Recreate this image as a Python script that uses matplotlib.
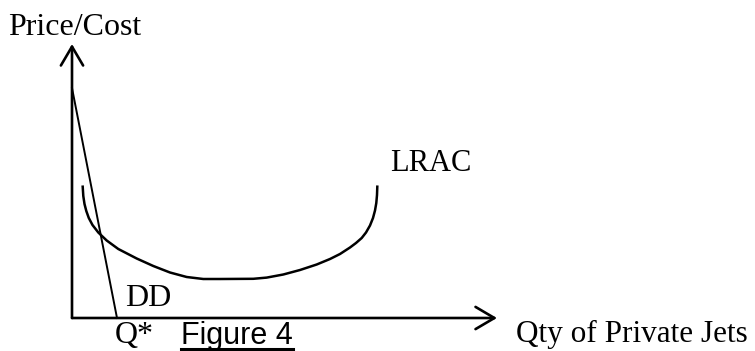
import numpy as np
from matplotlib import pyplot as plt

# data (pixel-like units, y grows downwards)

lrac_x = [82.7, 83.3, 84.5, 86.3, 88.8, 92.5, 98.3, 106.7, 118.3, 136.7, 153.3, 170, 186.7,
          203.3, 220, 253.3, 266.7, 283.3, 300, 316.7, 330, 340, 350, 356, 361.7, 366, 370,
          373, 375, 376.3, 377, 377.3]
lrac_y = [186.7, 196, 204, 211, 218, 225, 232.5, 240.5, 249, 258.5, 266, 272.5, 277,
          279, 279, 278.8, 277.6, 274.5, 270, 264.5, 259, 254, 247.5, 243, 238, 232.5, 225.5,
          218, 210.5, 203, 195, 186.7]

dd_x = [72, 117]
dd_y = [88, 318]

origin = (72, 318)
y_top = 44
x_right = 497

serif = ['Liberation Serif', 'DejaVu Serif']
sans = ['Liberation Sans', 'DejaVu Sans']

fig = plt.figure(figsize=(7.55, 3.51), dpi=100)
ax = fig.add_axes([0, 0, 1, 1])
ax.set_xlim(0, 755)
ax.set_ylim(351, 0)
ax.axis('off')

# axes with open arrow heads
arrow = dict(arrowstyle='->,head_length=0.68,head_width=0.4', mutation_scale=20,
             lw=1.9, color='black', shrinkA=0, shrinkB=0)
ax.annotate('', xy=(origin[0], y_top), xytext=origin, arrowprops=arrow)
ax.annotate('', xy=(x_right, origin[1]), xytext=origin, arrowprops=arrow)

# curves
ax.plot(lrac_x, lrac_y, color='black', lw=1.8, solid_joinstyle='round')
ax.plot(dd_x, dd_y, color='black', lw=1.4)

# labels
ax.text(8, 35, 'Price/Cost', family=serif, fontsize=23, va='baseline')
ax.text(390, 171, 'LRAC', family=serif, fontsize=22, va='baseline')
ax.text(125, 306.5, 'DD', family=serif, fontsize=23, va='baseline')
ax.text(115, 343, 'Q*', family=serif, fontsize=23, va='baseline')
ax.text(516, 342, 'Qty of Private Jets', family=serif, fontsize=22.5, va='baseline')
fig_txt = ax.text(181, 344, 'Figure 4', family=sans, fontsize=22, va='baseline')

# underline under "Figure 4"
fig.canvas.draw()
bb = fig_txt.get_window_extent().transformed(ax.transData.inverted())
x0, x1 = sorted([bb.x0, bb.x1])
ax.plot([x0, x1], [349, 349], color='black', lw=2.2)

fig.savefig('out.png', dpi=100)
